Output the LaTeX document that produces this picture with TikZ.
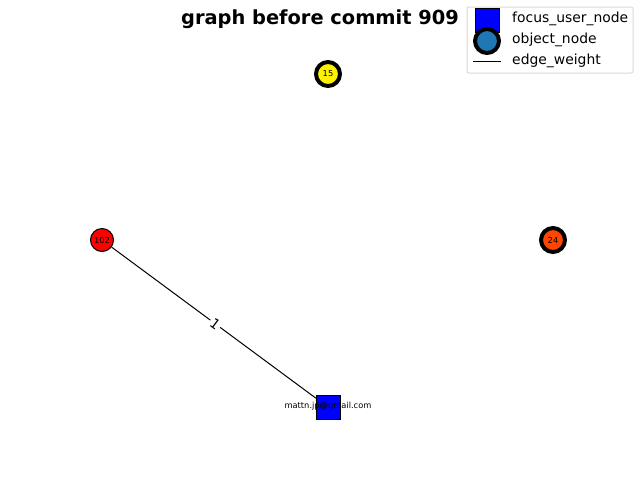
\documentclass[tikz,border=0pt]{standalone}
\usepackage{fontspec}
\setmainfont{DejaVu Sans}
\usetikzlibrary{calc}
\definecolor{tabblue}{HTML}{1F77B4}
\definecolor{orred}{RGB}{255,69,0}
\tikzset{
  obj/.style={circle, draw=black, inner sep=0pt, minimum size=22pt, font=\fontsize{8.3}{9}\selectfont},
  thin obj/.style={obj, line width=1pt, minimum size=23pt},
  thick obj/.style={obj, line width=4pt, minimum size=24pt},
  usernode/.style={rectangle, draw=black, fill=blue, line width=1pt, minimum size=24pt, inner sep=0pt},
  edgeline/.style={draw=black, line width=1pt},
  legtext/.style={anchor=west, font=\fontsize{13.9}{15}\selectfont, inner sep=0pt},
}
\begin{document}
\begin{tikzpicture}[x=1pt, y=-1pt]
\useasboundingbox (0,0) rectangle (640,480);
\node[font=\bfseries\fontsize{19.4}{22}\selectfont] (title) at (320,19) {graph before commit 909};
% edge
\node[thin obj, fill=red] (n102) at (102,240) {102};
\node[usernode] (user) at (328.5,407.5) {};
\draw[edgeline] (n102) -- (user);
\node[usernode] at (user) {};
\node[font=\fontsize{8.3}{9}\selectfont, inner sep=0pt] (userlbl) at (328,406) {mattn.jp@gmail.com};
\node[fill=white, inner sep=1.5pt, rotate=-36.3, font=\fontsize{13.9}{15}\selectfont] (w1) at ($(n102.center)!0.5!(user.center)$) {1};
\node[thick obj, fill=yellow] (n15) at (328,74) {15};
\node[thick obj, fill=orred] (n24) at (553,240) {24};
% legend
\draw[draw=black!15, fill=white, rounded corners=2pt, line width=1pt] (467,7) rectangle (633,73);
\node[rectangle, draw=black, fill=blue, line width=1pt, minimum width=24pt, minimum height=24pt, inner sep=0pt] (lsq) at (487,20) {};
\node[circle, draw=black, fill=tabblue, line width=4pt, minimum size=24pt, inner sep=0pt] (lcirc) at (487,41) {};
\coordinate (la) at (473,61);
\coordinate (lb) at (501,61);
\draw[edgeline] (la) -- (lb);
\node[legtext] (lt1) at (512,19) {focus\_user\_node};
\node[legtext] (lt2) at (512,40) {object\_node};
\node[legtext] (lt3) at (512,61) {edge\_weight};
\end{tikzpicture}
\end{document}
